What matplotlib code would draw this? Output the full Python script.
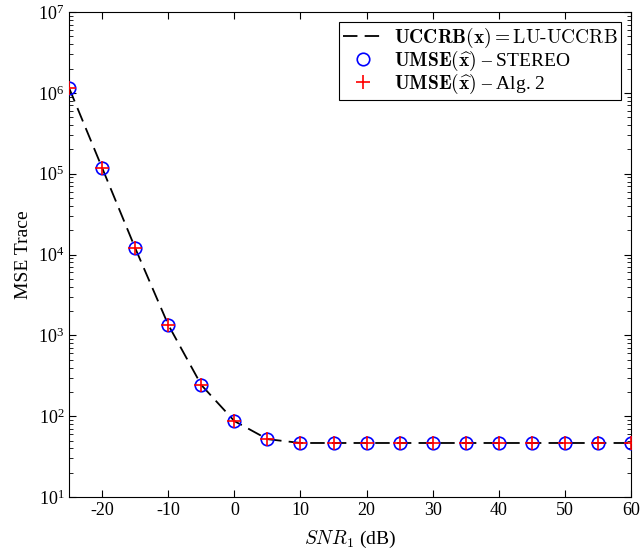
import matplotlib
matplotlib.use("Agg")
import matplotlib.pyplot as plt
from matplotlib.ticker import LogLocator, NullFormatter, FixedLocator

plt.rcParams['font.family'] = ['Liberation Serif', 'DejaVu Serif']
plt.rcParams['mathtext.fontset'] = 'cm'
plt.rcParams['axes.unicode_minus'] = False

snr = [-25, -20, -15, -10, -5, 0, 5, 10, 15, 20, 25, 30, 35, 40, 45, 50, 55, 60]
uccrb = [1.15e6, 1.18e5, 1.2e4, 1.35e3, 243, 87, 52, 46.6, 46.6, 46.6, 46.6,
         46.6, 46.6, 46.6, 46.6, 46.6, 46.6, 46.6]
umse_stereo = uccrb
umse_alg2 = uccrb

fig = plt.figure(figsize=(6.4, 5.51), dpi=100)
ax = fig.add_axes([0.108, 0.098, 0.878, 0.880])

ax.semilogy(snr, uccrb, color='k', linestyle=(0, (8, 4)), linewidth=1.3,
            label=r'$\mathbf{UCCRB}(\mathbf{x}) = \text{LU-UCCRB}$', zorder=2)
ax.semilogy(snr, umse_stereo, linestyle='none', marker='o', markersize=9,
            markerfacecolor='none', markeredgecolor='b', markeredgewidth=1.2,
            label=r'$\mathbf{UMSE}(\widehat{\mathbf{x}})$ – STEREO', zorder=3)
ax.semilogy(snr, umse_alg2, linestyle='none', marker='+', markersize=10,
            color='r', markeredgewidth=1.2,
            label=r'$\mathbf{UMSE}(\widehat{\mathbf{x}})$ – Alg. 2', zorder=4)

ax.set_xlim(-25, 60)
ax.set_ylim(1e1, 1e7)
ax.xaxis.set_major_locator(FixedLocator([-20, -10, 0, 10, 20, 30, 40, 50, 60]))
ax.yaxis.set_major_locator(LogLocator(base=10, numticks=10))
ax.yaxis.set_minor_locator(LogLocator(base=10, subs=range(2, 10), numticks=10))
ax.yaxis.set_minor_formatter(NullFormatter())
ax.tick_params(which='both', direction='in', top=True, right=True, labelsize=13)
ax.tick_params(which='major', length=5)
ax.tick_params(which='minor', length=3)
for s in ax.spines.values():
    s.set_linewidth(0.8)

ax.set_xlabel(r'$SNR_1$ (dB)', fontsize=14, labelpad=7)
ax.set_ylabel('MSE Trace', fontsize=14)

leg = ax.legend(loc='upper right', fontsize=14, fancybox=False, framealpha=1,
                edgecolor='k', handlelength=2.0, borderaxespad=0.5,
                labelspacing=-0.05, borderpad=0.2, handletextpad=0.6)
leg.get_frame().set_linewidth(0.8)

fig.savefig('out.png', dpi=100)
